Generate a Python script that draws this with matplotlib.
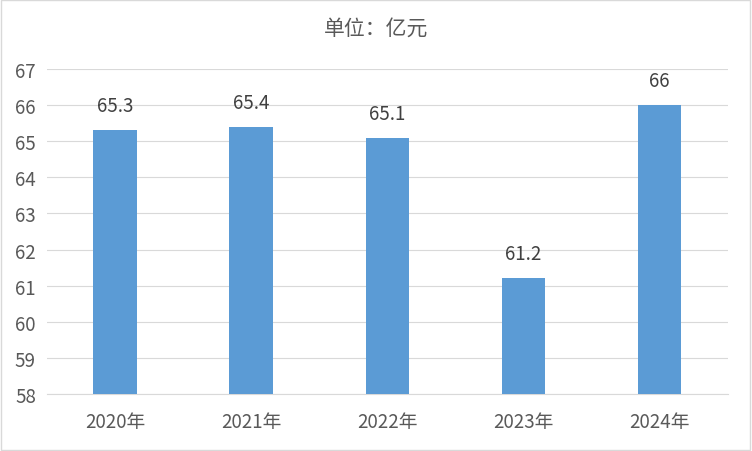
import matplotlib.pyplot as plt

plt.rcParams['font.family'] = ['Noto Sans CJK SC', 'DejaVu Sans']

# 数据
years = ["2020年", "2021年", "2022年", "2023年", "2024年"]
values = [65.3, 65.4, 65.1, 61.2, 66]
value_labels = ["65.3", "65.4", "65.1", "61.2", "66"]
yticks = [58, 59, 60, 61, 62, 63, 64, 65, 66, 67]

fig = plt.figure(figsize=(7.52, 4.52), dpi=100)
ax = fig.add_axes([0.0625, 0.126, 0.905, 0.719])

x = range(len(years))
ax.bar(x, values, width=0.32, color="#5B9BD5", zorder=3)
for i, v in enumerate(values):
    ax.text(i, v + 0.68, value_labels[i], ha="center", va="center",
            fontsize=13.5, color="#404040")

ax.set_xlim(-0.5, len(years) - 0.5)
ax.set_ylim(58, 67)
ax.set_yticks(yticks)
ax.set_xticks(list(x))
ax.set_xticklabels(years)
ax.tick_params(axis="both", length=0, labelsize=13.5, colors="#595959")
ax.tick_params(axis="x", pad=12)
ax.tick_params(axis="y", pad=8)
ax.grid(axis="y", color="#D9D9D9", linewidth=0.8, zorder=0)
for s in ["top", "right", "left"]:
    ax.spines[s].set_visible(False)
ax.spines["bottom"].set_color("#D9D9D9")

fig.text(0.5, 0.937, "单位：亿元", ha="center", va="center",
         fontsize=15, color="#595959")

# 外边框
fig.patches.append(plt.Rectangle((0.001, 0.002), 0.997, 0.996, transform=fig.transFigure,
                                 fill=False, edgecolor="#D9D9D9", linewidth=1))

fig.savefig("out.png", dpi=100)
